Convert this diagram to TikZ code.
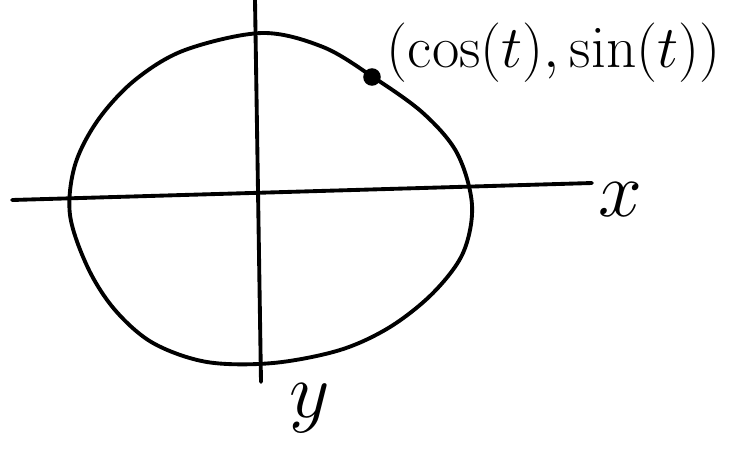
\documentclass[tikz,border=0pt]{standalone}
\usepackage{amsmath}
\usetikzlibrary{positioning}
\tikzset{
  sketch/.style={line width=2.2pt, line cap=round, line join=round},
  axislabel/.style={font=\Huge, scale=1.8, transform shape, inner sep=0pt},
  pointlabel/.style={font=\Huge, scale=1.36, transform shape, inner sep=0pt, anchor=west},
  dot/.style={circle, fill=black, inner sep=0pt, minimum size=10pt},
}
\begin{document}
\begin{tikzpicture}[x=0.02cm, y=-0.02cm]
  \useasboundingbox (0,0) rectangle (729,451);

  % axes
  \coordinate (xl) at (12,200);
  \coordinate (xr) at (592,183);
  \coordinate (yt) at (255,0);
  \coordinate (yb) at (261,382);
  \draw[sketch] (xl) -- (xr);
  \draw[sketch] (yt) -- (yb);

  % unit circle (hand drawn)
  \draw[sketch] plot[smooth cycle, tension=0.55] coordinates {
    (262,33) (323,47) (373,77) (423,113) (457,153) (472,205)
    (463,253) (433,293) (390,327) (340,350) (273,363) (207,362)
    (153,343) (115,310) (88,268) (70,215) (75,165) (98,120)
    (135,80) (185,50)};

  % point on the circle
  \node[dot] (pt) at (372,77) {};
  \node[pointlabel, right=3pt of pt, yshift=10pt] (ptlbl) {$(\cos(t),\sin(t))$};

  % axis labels
  \node[axislabel] (xlbl) at (620,200) {$x$};
  \node[axislabel] (ylbl) at (310,408) {$y$};
\end{tikzpicture}
\end{document}
